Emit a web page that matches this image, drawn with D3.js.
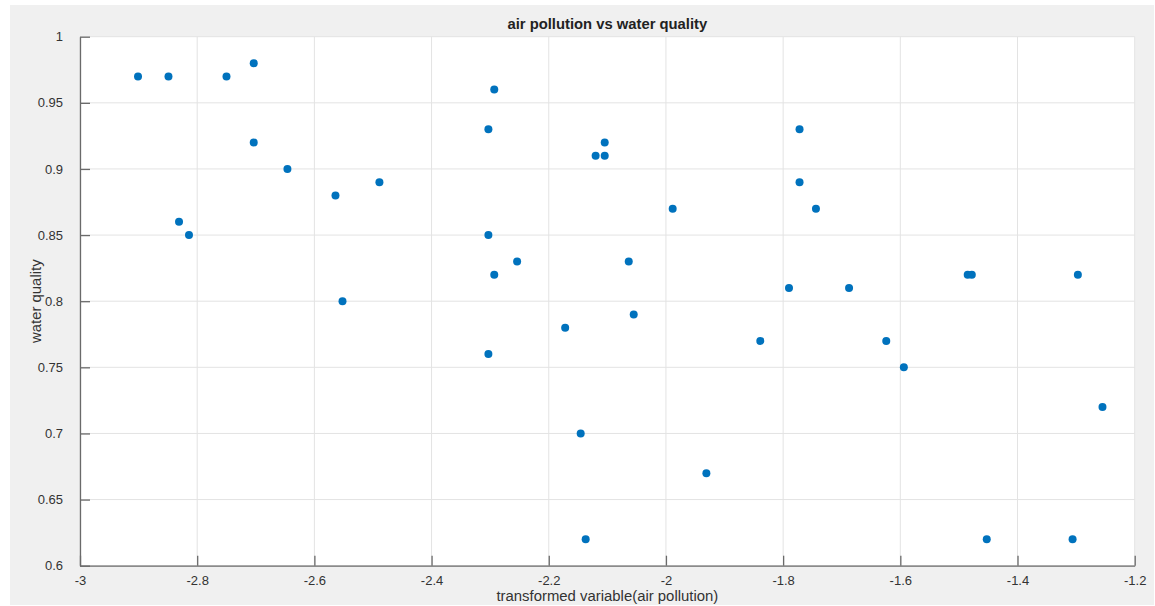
<!DOCTYPE html>
<html>
<head>
<meta charset="utf-8">
<script src="https://cdn.jsdelivr.net/npm/d3@7"></script>
<style>
  html, body { margin: 0; padding: 0; background: #ffffff; }
  svg { display: block; }
  text { font-family: "Liberation Sans", Arial, sans-serif; }
</style>
</head>
<body>
<svg id="chart" width="1155" height="606"></svg>
<script>
// Transformed air pollution (x) and water quality (y) per observation
const airPollution = [
  -2.901, -2.849, -2.750, -2.7035, -2.7035, -2.646, -2.831, -2.814,
  -2.564, -2.489, -2.552, -2.293, -2.303, -2.303, -2.293, -2.303,
  -2.254, -2.1045, -2.120, -2.1045, -1.9885, -2.0635, -2.055, -2.172,
  -2.1455, -2.137, -1.931, -1.772, -1.772, -1.744, -1.790, -1.6875,
  -1.839, -1.624, -1.594, -1.485, -1.478, -1.297, -1.255, -1.4525, -1.306
];
const waterQuality = [
  0.97, 0.97, 0.97, 0.98, 0.92, 0.90, 0.86, 0.85,
  0.88, 0.89, 0.80, 0.96, 0.93, 0.85, 0.82, 0.76,
  0.83, 0.92, 0.91, 0.91, 0.87, 0.83, 0.79, 0.78,
  0.70, 0.62, 0.67, 0.93, 0.89, 0.87, 0.81, 0.81,
  0.77, 0.77, 0.75, 0.82, 0.82, 0.82, 0.72, 0.62, 0.62
];
const xTicks = [-3, -2.8, -2.6, -2.4, -2.2, -2, -1.8, -1.6, -1.4, -1.2];
const yTicks = [0.6, 0.65, 0.7, 0.75, 0.8, 0.85, 0.9, 0.95, 1];

const titleText = "air pollution vs water quality";
const xLabelText = "transformed variable(air pollution)";
const yLabelText = "water quality";

const svg = d3.select("#chart");
const plot = { left: 80, top: 36.7, right: 1134.7, bottom: 565.7 };

// figure background
svg.append("rect")
  .attr("x", 10).attr("y", 5)
  .attr("width", 1144).attr("height", 600)
  .attr("fill", "#f0f0f0");

const x = d3.scaleLinear().domain([-3, -1.2]).range([plot.left, plot.right]);
const y = d3.scaleLinear().domain([0.6, 1]).range([plot.bottom, plot.top]);

// axes area
svg.append("rect")
  .attr("x", plot.left).attr("y", plot.top)
  .attr("width", plot.right - plot.left).attr("height", plot.bottom - plot.top)
  .attr("fill", "#ffffff");

// grid
const grid = svg.append("g").attr("stroke", "#e3e3e3").attr("stroke-width", 1);
grid.selectAll("line.gx").data(xTicks).join("line")
  .attr("x1", d => x(d)).attr("x2", d => x(d))
  .attr("y1", plot.top).attr("y2", plot.bottom);
grid.selectAll("line.gy").data(yTicks).join("line")
  .attr("y1", d => y(d)).attr("y2", d => y(d))
  .attr("x1", plot.left).attr("x2", plot.right);

// axes with inward ticks; labels keep a plain hyphen for negatives
const axisColor = "#6a6a6a";
const textColor = "#333333";
const plain = d => String(d);

const gx = svg.append("g")
  .attr("transform", `translate(0,${plot.bottom})`)
  .call(d3.axisBottom(x).tickValues(xTicks).tickSizeInner(-10).tickSizeOuter(0).tickPadding(15)
    .tickFormat(plain));
gx.select(".domain").attr("stroke", axisColor).attr("stroke-width", 1.3);
gx.selectAll(".tick line").attr("stroke", axisColor).attr("stroke-width", 1.3);
gx.selectAll(".tick text").attr("fill", textColor).attr("font-size", 13)
  .attr("font-family", "Liberation Sans, Arial, sans-serif").attr("dy", "0.3em");

const gy = svg.append("g")
  .attr("transform", `translate(${plot.left},0)`)
  .call(d3.axisLeft(y).tickValues(yTicks).tickSizeInner(-10).tickSizeOuter(0).tickPadding(17)
    .tickFormat(plain));
gy.select(".domain").attr("stroke", axisColor).attr("stroke-width", 1.3);
gy.selectAll(".tick line").attr("stroke", axisColor).attr("stroke-width", 1.3);
gy.selectAll(".tick text").attr("fill", textColor).attr("font-size", 13)
  .attr("font-family", "Liberation Sans, Arial, sans-serif");

// points
const pts = d3.zip(airPollution, waterQuality);
svg.append("g").selectAll("circle").data(pts).join("circle")
  .attr("cx", d => x(d[0])).attr("cy", d => y(d[1]))
  .attr("r", 4)
  .attr("fill", "#0072BD");

// title and labels
const cx = (plot.left + plot.right) / 2;
svg.append("text")
  .attr("x", cx).attr("y", 29)
  .attr("text-anchor", "middle")
  .attr("font-size", 14.8).attr("font-weight", "bold")
  .attr("fill", "#222222")
  .text(titleText);

svg.append("text")
  .attr("x", cx).attr("y", 601)
  .attr("text-anchor", "middle")
  .attr("font-size", 14.9)
  .attr("fill", textColor)
  .text(xLabelText);

svg.append("text")
  .attr("transform", `translate(41,${(plot.top + plot.bottom) / 2}) rotate(-90)`)
  .attr("text-anchor", "middle")
  .attr("font-size", 14.9)
  .attr("fill", textColor)
  .text(yLabelText);
</script>
</body>
</html>
